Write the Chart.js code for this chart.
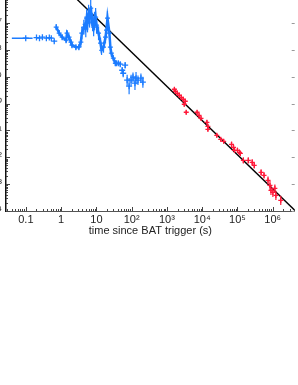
<!DOCTYPE html>
<html lang="en">
<head>
<meta charset="UTF-8">
<title>GRB light curve</title>
<script src="https://cdn.jsdelivr.net/npm/chart.js"></script>
<style>
    html, body { margin: 0; padding: 0; background: #fff; overflow: hidden; }
    body { width: 298px; height: 385px; position: relative; }
    /* the picture is a crop: left labels and top frame sit outside the window */
    #lc { position: absolute; left: -50px; top: -20px; }
</style>
</head>
<body>
<canvas id="lc" width="350" height="258"></canvas>
<script>
// BAT, first wide bin
const batFlatTime = [0.040, 0.155];
const batFlatFlux = [2.76e-8, 2.76e-8];

// BAT, dense part (drawn as a band)
const batTime = [0.725, 0.880, 1.07, 1.38, 1.47, 1.67, 1.90, 2.03, 2.62, 3.18, 3.62, 3.86, 4.39, 4.8, 5.0, 5.32, 5.6, 6.0, 6.4, 6.89, 7.1, 7.35, 7.8, 8.35, 8.9, 9.5, 10.1, 11.5, 13.1, 14.0, 15.9, 18.1, 19.3, 20.6, 23.4, 24.9, 26.6, 30.2, 34.4];
const batFlux = [7.1e-8, 4.24e-8, 3.0e-8, 2.32e-8, 4.24e-8, 3.0e-8, 1.95e-8, 1.51e-8, 1.27e-8, 1.27e-8, 1.95e-8, 4.24e-8, 7.1e-8, 9e-8, 6e-8, 1.54e-7, 1.0e-7, 2.2e-7, 1.5e-7, 3.63e-7, 2.0e-7, 1.67e-7, 1.1e-7, 7.1e-8, 1.2e-7, 1.67e-7, 8.4e-8, 4.24e-8, 1.79e-8, 9.8e-9, 1.27e-8, 3.0e-8, 5.5e-8, 1.54e-7, 4.24e-8, 1.27e-8, 7.6e-9, 4.94e-9, 3.21e-9];
const batErr = [1.3, 1.3, 1.3, 1.3, 1.3, 1.3, 1.3, 1.3, 1.3, 1.3, 1.5, 1.7, 1.9, 2.0, 2.0, 2.2, 2.2, 2.2, 2.2, 2.2, 2.2, 2.2, 2.2, 2.2, 2.2, 2.2, 2.0, 1.8, 1.6, 1.5, 1.6, 1.7, 1.8, 1.8, 1.7, 1.5, 1.4, 1.3, 1.3];

// BAT, single bins with error bars (multiplicative)
const batPtTime = [0.099, 0.200, 0.243, 0.294, 0.381, 0.462, 0.526, 0.637, 36.7, 41.7, 47.4, 53.9, 57.5, 65.4, 74.4, 84.6, 96.2, 109, 124, 133, 151, 183, 208];
const batPtFlux = [2.76e-8, 2.9e-8, 2.76e-8, 3.0e-8, 2.76e-8, 2.9e-8, 2.76e-8, 2.13e-8, 3.21e-9, 3.21e-9, 2.95e-9, 1.76e-9, 1.36e-9, 2.71e-9, 7.5e-10, 4.5e-10, 7.5e-10, 9.7e-10, 5.8e-10, 8.9e-10, 7.5e-10, 8.9e-10, 6.3e-10];
const batPtErr = [1.05, 1.05, 1.05, 1.05, 1.05, 1.05, 1.05, 1.1, 1.2, 1.2, 1.2, 1.3, 1.4, 1.3, 1.6, 2.0, 1.6, 1.5, 1.8, 1.7, 1.5, 1.5, 1.6];

// XRT
const xrtTime = [1630, 1738, 1977, 2249, 2558, 2910, 3310, 3103, 3525, 7160, 8140, 9250, 13600, 14500, 14500, 25900, 33500, 40600, 67900, 77300, 82400, 100000, 114000, 121000, 147000, 203000, 262000, 299000, 468000, 567000, 735000, 836000, 891000, 1.01e6, 1.15e6, 1.23e6, 1.69e6];
const xrtFlux = [3.44e-10, 2.90e-10, 2.44e-10, 2.06e-10, 1.73e-10, 1.46e-10, 1.23e-10, 9.5e-11, 4.78e-11, 4.78e-11, 3.69e-11, 2.85e-11, 2.02e-11, 1.43e-11, 1.11e-11, 6.6e-12, 4.7e-12, 3.95e-12, 3.06e-12, 2.36e-12, 1.82e-12, 1.82e-12, 1.54e-12, 1.41e-12, 7.7e-13, 7.7e-13, 6.5e-13, 5.0e-13, 2.75e-13, 2.13e-13, 1.39e-13, 9.0e-14, 5.9e-14, 4.94e-14, 7.0e-14, 3.82e-14, 2.49e-14];
const xrtErr = [1.2, 1.2, 1.2, 1.2, 1.2, 1.2, 1.2, 1.2, 1.2, 1.2, 1.2, 1.2, 1.2, 1.2, 1.2, 1.2, 1.2, 1.2, 1.25, 1.25, 1.25, 1.25, 1.25, 1.25, 1.3, 1.3, 1.3, 1.3, 1.3, 1.3, 1.4, 1.5, 1.5, 1.5, 1.4, 1.5, 1.5];

// power law fit, end points
const fitTime = [1, 4.2e6];
const fitFlux = [2.9e-6, 1.07e-14];

// tick labels
const xTickValues = [0.1, 1, 10, 100, 1e3, 1e4, 1e5, 1e6];
const xTickLabels = ['0.1', '1', '10', '10²', '10³', '10⁴', '10⁵', '10⁶'];
const yTickValues = [1e-7, 1e-8, 1e-9, 1e-10, 1e-11, 1e-12, 1e-13, 1e-14];
const yTickLabels = ['10⁻⁷', '10⁻⁸', '10⁻⁹', '10⁻¹⁰', '10⁻¹¹', '10⁻¹²', '10⁻¹³', '10⁻¹⁴'];

const BLUE = '#1c7cff';
const RED = '#ff1a3a';
const FONT = { family: '"Liberation Sans", Arial, sans-serif', size: 11 };

function pts(xs, ys) {
    return xs.map((v, i) => ({ x: v, y: ys[i] }));
}

// inward tick marks on the frame, plus vertical error bars
const frameTicks = {
    id: 'frameTicks',
    afterDatasetsDraw(chart) {
        const ctx = chart.ctx;
        chart.data.datasets.forEach((ds, di) => {
            if (!ds.yErr) return;
            const meta = chart.getDatasetMeta(di);
            ctx.save();
            ctx.strokeStyle = ds.borderColor;
            ctx.lineWidth = 1.2;
            ds.data.forEach((p, i) => {
                const f = ds.yErr[i];
                const px = meta.data[i].x;
                const y1 = chart.scales.y.getPixelForValue(p.y * f);
                const y2 = chart.scales.y.getPixelForValue(p.y / f);
                ctx.beginPath();
                ctx.moveTo(px, y1);
                ctx.lineTo(px, y2);
                ctx.stroke();
            });
            ctx.restore();
        });
    },
    afterDraw(chart) {
        const { ctx, chartArea: a, scales: { x, y } } = chart;
        function each(s, fn) {
            const e0 = Math.floor(Math.log10(s.min));
            const e1 = Math.ceil(Math.log10(s.max));
            for (let e = e0; e <= e1; e++) {
                for (let m = 1; m < 10; m++) {
                    const v = m * Math.pow(10, e);
                    if (v < s.min || v > s.max) continue;
                    fn(Math.round(s.getPixelForValue(v)) + 0.5, m === 1);
                }
            }
        }
        ctx.save();
        ctx.lineWidth = 1;
        ctx.strokeStyle = '#444';
        ctx.beginPath();
        each(x, (px, major) => {
            ctx.moveTo(px, a.bottom);
            ctx.lineTo(px, a.bottom - (major ? 4 : 2));
        });
        each(y, (py, major) => {
            ctx.moveTo(a.left, py);
            ctx.lineTo(a.left + (major ? 4 : 2), py);
        });
        ctx.stroke();
        ctx.strokeStyle = '#999';
        ctx.beginPath();
        each(y, (py, major) => {
            if (!major) return;
            ctx.moveTo(a.right, py);
            ctx.lineTo(a.right - 3, py);
        });
        ctx.stroke();
        ctx.restore();
    }
};

new Chart(document.getElementById('lc'), {
    type: 'scatter',
    data: {
        datasets: [
            {
                data: pts(fitTime, fitFlux),
                showLine: true,
                borderColor: '#000',
                borderWidth: 1.4,
                pointRadius: 0,
                order: 5
            },
            {
                data: pts(batFlatTime, batFlatFlux),
                showLine: true,
                borderColor: BLUE,
                borderWidth: 1.5,
                pointRadius: 0,
                order: 4
            },
            {
                data: pts(batTime, batFlux),
                yErr: batErr,
                showLine: true,
                borderColor: BLUE,
                backgroundColor: BLUE,
                borderWidth: 2.5,
                pointStyle: 'cross',
                pointRadius: 2.5,
                pointBorderWidth: 1.2,
                order: 4
            },
            {
                data: pts(batPtTime, batPtFlux),
                yErr: batPtErr,
                borderColor: BLUE,
                backgroundColor: BLUE,
                pointStyle: 'cross',
                pointRadius: 3,
                borderWidth: 1.3,
                order: 3
            },
            {
                data: pts(xrtTime, xrtFlux),
                yErr: xrtErr,
                borderColor: RED,
                backgroundColor: RED,
                pointStyle: 'cross',
                pointRadius: 2.5,
                borderWidth: 1.3,
                order: 1
            }
        ]
    },
    options: {
        responsive: false,
        animation: false,
        devicePixelRatio: 1,
        layout: { padding: { top: 12, right: 1, left: 0, bottom: 0 } },
        plugins: { legend: { display: false }, tooltip: { enabled: false } },
        scales: {
            x: {
                type: 'logarithmic',
                min: 0.0273,
                max: 4.2e6,
                afterFit: s => { s.height = 27; },
                afterBuildTicks: s => { s.ticks = xTickValues.map(v => ({ value: v })); },
                grid: { display: false, drawTicks: false },
                border: { display: true, color: '#555', width: 1 },
                ticks: {
                    autoSkip: false,
                    maxRotation: 0,
                    padding: 2,
                    color: '#222',
                    font: FONT,
                    callback: (v, i) => xTickLabels[i]
                },
                title: {
                    display: true,
                    text: 'time since BAT trigger (s)',
                    color: '#222',
                    padding: 0,
                    font: FONT
                }
            },
            y: {
                type: 'logarithmic',
                min: 1e-14,
                max: 1.45e-6,
                afterFit: s => { s.width = 56; },
                afterBuildTicks: s => { s.ticks = yTickValues.map(v => ({ value: v })); },
                grid: { display: false, drawTicks: false },
                border: { display: true, color: '#111', width: 1.5 },
                ticks: {
                    autoSkip: false,
                    padding: 4,
                    color: '#222',
                    font: FONT,
                    callback: (v, i) => yTickLabels[i]
                }
            }
        }
    },
    plugins: [frameTicks]
});
</script>
</body>
</html>
